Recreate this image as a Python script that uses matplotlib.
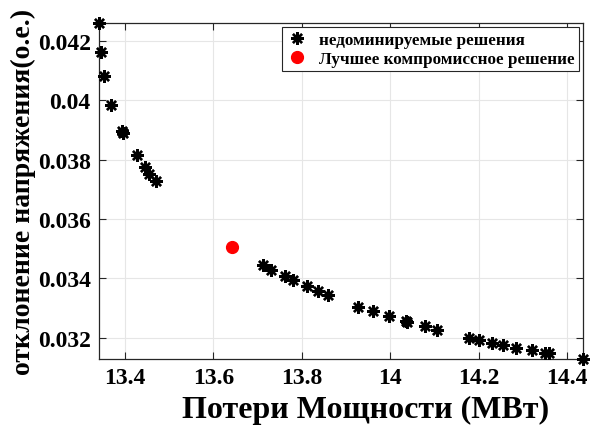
import matplotlib
matplotlib.use("Agg")
import matplotlib.pyplot as plt

plt.rcParams['font.family'] = ['Liberation Serif', 'DejaVu Serif']
plt.rcParams['font.weight'] = 'bold'

# Non-dominated solutions (power loss MW, voltage deviation p.u.)
loss = [13.341, 13.345, 13.352, 13.369, 13.393, 13.396, 13.426, 13.444, 13.455, 13.471,
        13.711, 13.730, 13.761, 13.779, 13.811, 13.836, 13.858,
        13.927, 13.960, 13.996, 14.035, 14.038, 14.078, 14.105,
        14.177, 14.201, 14.231, 14.256, 14.285, 14.320, 14.349, 14.360, 14.436]
dev = [0.04260, 0.04161, 0.04082, 0.03984, 0.03895, 0.03890, 0.03816, 0.03776, 0.03753, 0.03727,
       0.03446, 0.03430, 0.03409, 0.03395, 0.03374, 0.03359, 0.03343,
       0.03305, 0.03291, 0.03273, 0.03258, 0.03254, 0.03239, 0.03228,
       0.03201, 0.03192, 0.03183, 0.03175, 0.03167, 0.03158, 0.03150, 0.03150, 0.03129]

best_loss = [13.6425]
best_dev = [0.03506]

xticks = [13.4, 13.6, 13.8, 14.0, 14.2, 14.4]
xticklabels = ['13.4', '13.6', '13.8', '14', '14.2', '14.4']
yticks = [0.032, 0.034, 0.036, 0.038, 0.040, 0.042]
yticklabels = ['0.032', '0.034', '0.036', '0.038', '0.04', '0.042']

fig = plt.figure(figsize=(5.9, 4.27), dpi=100)
ax = fig.add_axes([99/590, 1-360/427, (583-99)/590, (360-24)/427])

star = (8, 2, 0)
ax.plot(loss, dev, linestyle='none', marker=star, markersize=9, markeredgewidth=1.7,
        color='black', label='недоминируемые решения', zorder=3, clip_on=False)
ax.plot(best_loss, best_dev, linestyle='none', marker='o', markersize=8.5,
        color='red', markeredgecolor='red', label='Лучшее компромиссное решение', zorder=3)

ax.set_xlim(min(loss), max(loss))
ax.set_ylim(min(dev), max(dev))
ax.set_xticks(xticks)
ax.set_xticklabels(xticklabels)
ax.set_yticks(yticks)
ax.set_yticklabels(yticklabels)

ax.grid(True, color='#e6e6e6', linewidth=0.8)
ax.set_axisbelow(True)
for s in ax.spines.values():
    s.set_color('#262626')
    s.set_linewidth(0.9)
ax.tick_params(direction='in', length=5, width=0.8, color='#262626',
               top=True, right=True, labelsize=17, pad=6)
for lab in ax.get_xticklabels() + ax.get_yticklabels():
    lab.set_fontweight('bold')

ax.set_xlabel('Потери Мощности (МВт)', fontsize=23, fontweight='bold')
ax.xaxis.set_label_coords(0.55, -0.107)
ax.xaxis.label.set_va('top')
ax.set_ylabel('отклонение напряжения(o.e.)', fontsize=20, fontweight='bold', labelpad=1)

leg = ax.legend(loc='upper right', frameon=True, fancybox=False,
                edgecolor='#262626', framealpha=1, borderpad=0.25, labelspacing=0.2,
                handletextpad=0.6, handlelength=1.3, borderaxespad=0.25,
                prop={'weight': 'bold', 'size': 12.3})
leg.get_frame().set_linewidth(0.8)

fig.savefig('out.png', dpi=100)
